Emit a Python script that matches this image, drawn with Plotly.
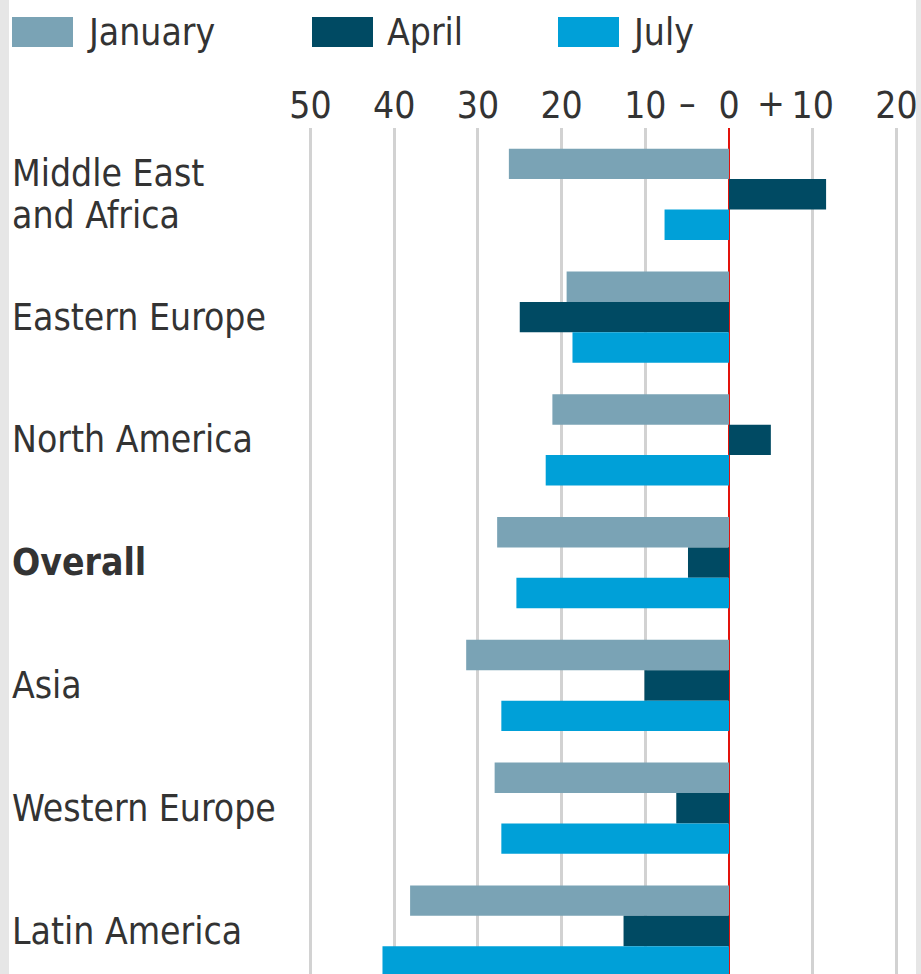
import plotly.graph_objects as go

categories = ["Middle East<br>and Africa", "Eastern Europe", "North America",
              "<b>Overall</b>", "Asia", "Western Europe", "Latin America"]
january = [-26.3, -19.4, -21.1, -27.7, -31.4, -28.0, -38.1]
april = [11.6, -25.0, 5.0, -4.9, -10.1, -6.3, -12.6]
july = [-7.7, -18.7, -21.9, -25.4, -27.2, -27.2, -41.4]

tick_vals = [-50, -40, -30, -20, -10, 0, 10, 20]
tick_text = ["50", "40", "30", "20", "10", "0", "10", "20"]
sign_vals = [-5, 5]
sign_text = ["–", "+"]

series = [("January", january, "#7aa3b5"),
          ("April", april, "#004a63"),
          ("July", july, "#00a0d8")]

W, H = 921, 974
TOP = 128
FONT = "Liberation Sans Narrow, DejaVu Sans Condensed, Arial Narrow, sans-serif"
TXT = "#333333"
FS = 37

def px(x):
    return x / W

def py(y):
    return (H - y) / (H - TOP)

fig = go.Figure()
for name, vals, col in series:
    fig.add_trace(go.Bar(y=categories, x=vals, name=name, orientation="h",
                         marker=dict(color=col, line=dict(width=0)),
                         showlegend=False))

fig.update_layout(
    width=W, height=H,
    margin=dict(l=0, r=0, t=TOP, b=0),
    paper_bgcolor="white", plot_bgcolor="white",
    barmode="group", bargap=0.257, bargroupgap=0,
    font=dict(family=FONT, size=FS, color=TXT),
    xaxis=dict(range=[-729 / 8.37, (W - 729) / 8.37], side="top",
               tickvals=tick_vals, ticktext=tick_text, ticks="",
               showgrid=True, gridcolor="#d2d2d2", gridwidth=2.5,
               zeroline=True, zerolinecolor="#e3120b", zerolinewidth=2,
               showline=False, ticklabelstandoff=2,
               tickfont=dict(size=FS, color=TXT, family=FONT)),
    yaxis=dict(type="category", range=[6.35, -0.54], showticklabels=False,
               showgrid=False, zeroline=False, showline=False),
)

for v, t in zip(sign_vals, sign_text):
    fig.add_annotation(x=v, xref="x", y=py(104), yref="paper", text=t,
                       showarrow=False, font=dict(size=FS, color=TXT, family=FONT),
                       xanchor="center", yanchor="middle")

for c in categories:
    lines = c.split("<br>")
    n = len(lines)
    for i, line in enumerate(lines):
        shift = (n - 1) / 2 * 42 - i * 42
        fig.add_annotation(x=px(10), xref="paper", y=c, yref="y", text=line,
                           showarrow=False, xanchor="left", yanchor="middle", align="left",
                           yshift=shift,
                           font=dict(size=FS, color=TXT, family=FONT))

# legend drawn manually
leg = [(12, 85), (312, 385), (558, 630)]
for (sx, tx), (name, vals, col) in zip(leg, series):
    fig.add_shape(type="rect", xref="paper", yref="paper",
                  x0=px(sx), x1=px(sx + 61), y0=py(47), y1=py(17),
                  fillcolor=col, line=dict(width=0))
    fig.add_annotation(x=px(tx), xref="paper", y=py(32), yref="paper", text=name,
                       showarrow=False, xanchor="left", yanchor="middle",
                       font=dict(size=FS, color=TXT, family=FONT))

# side strips
fig.add_shape(type="rect", xref="paper", yref="paper", x0=0, x1=px(9),
              y0=0, y1=py(0), fillcolor="#e6e6e6", line=dict(width=0), layer="above")
fig.add_shape(type="rect", xref="paper", yref="paper", x0=px(916), x1=1,
              y0=0, y1=py(0), fillcolor="#e6e6e6", line=dict(width=0), layer="above")

fig.write_html("out.html", config={"displayModeBar": False},
               post_script="document.body.style.margin='0';document.body.style.padding='0';")
